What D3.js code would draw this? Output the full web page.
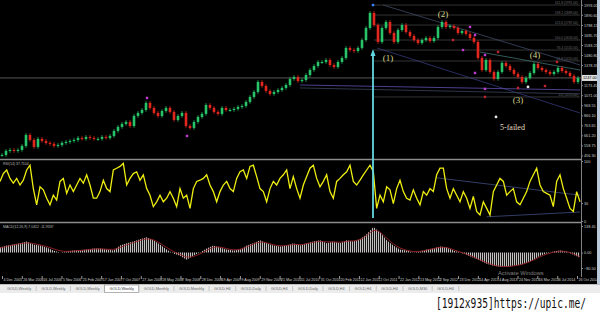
<!DOCTYPE html>
<html>
<head>
<meta charset="utf-8">
<script src="https://cdn.jsdelivr.net/npm/d3@7"></script>
<style>
  html, body { margin: 0; padding: 0; background: #fff; overflow: hidden; }
  svg { display: block; font-family: "Liberation Sans", Arial, sans-serif; }
</style>
</head>
<body>
<script>
// weekly closes (one every ~4px)
const closes = [
  461, 502, 512, 502, 512, 553, 665, 614, 543, 625,
  604, 584, 574, 553, 563, 584, 594, 604, 614, 635,
  625, 645, 635, 625, 625, 645, 635, 655, 706, 747,
  778, 798, 757, 859, 890, 920, 992, 941, 890, 859,
  910, 941, 900, 818, 859, 890, 757, 737, 798, 849,
  880, 971, 941, 900, 880, 941, 920, 920, 931, 951,
  961, 1002, 1053, 1104, 1206, 1165, 1114, 1084, 1104, 1124,
  1145, 1175, 1237, 1257, 1216, 1226, 1277, 1328, 1369, 1410,
  1410, 1430, 1379, 1359, 1410, 1451, 1553, 1532, 1522, 1553,
  1634, 1757, 1910, 1787, 1614, 1757, 1818, 1706, 1614, 1736,
  1787, 1716, 1675, 1634, 1604, 1634, 1655, 1624, 1655, 1767,
  1818, 1767, 1777, 1757, 1706, 1726, 1696, 1655, 1614, 1451,
  1328, 1430, 1308, 1237, 1308, 1400, 1369, 1328, 1288, 1257,
  1206, 1247, 1298, 1390, 1349, 1328, 1308, 1288, 1308, 1349,
  1318, 1298, 1267, 1206, 1247
];

// oscillator (yellow line)
const rsi = [
  66, 79, 85, 71, 63, 71, 60, 68, 85, 93,
  54, 27, 57, 52, 38, 27, 43, 35, 66, 71,
  46, 60, 49, 60, 71, 63, 77, 60, 38, 38,
  49, 68, 54, 49, 85, 88, 91, 96, 60, 71,
  79, 82, 68, 77, 54, 43, 24, 32, 43, 32,
  38, 49, 38, 24, 54, 38, 43, 21, 54, 66,
  68, 71, 77, 60, 49, 32, 49, 60, 66, 54,
  49, 71, 82, 85, 71, 91, 93, 74, 54, 49,
  32, 54, 66, 60, 71, 77, 85, 54, 74, 54,
  38, 60, 74, 88, 93, 71, 57, 66, 77, 49,
  38, 66, 71, 77, 82, 93, 66, 60, 68, 77,
  85, 93, 82, 21, 43, 32, 57, 52, 29, 54,
  68, 49, 38, 35, 52, 38, 27, 49, 43, 54,
  49, 77, 88, 88, 54, 38, 54, 43, 32, 49,
  38, 21, 41, 16, 10, 32, 21, 10, 49, 60,
  71, 66, 43, 49, 54, 32, 27, 38, 49, 66,
  77, 88, 60, 49, 46, 43, 24, 66, 77, 54,
  38, 21, 16, 49, 32
];

// macd histogram + signal
const macdHist = [
  27, 37, 42, 48, 58, 42, 37, 27, 11, 0, 5, 11, 11, 16, 21, 21, 16, 11, 37, 48,
  58, 69, 80, 64, 42, 16, -5, -16, -37, -16, 0, 21, 37, 27, 16, 11, 16, 37, 48, 64,
  48, 37, 32, 37, 48,
  37, 48, 58, 64, 48, 58, 48, 64, 58, 69, 95, 133, 106, 64, 37, 16, 11, 0, 5, 16,
  21, 32, 27, 11, 0, -11, -27, -42, -58, -69, -74, -74, -69, -64, -53, -37, -16, -5, 5, 11,
  5, -11, -27
];
const macdSignal = [
  24, 32, 40, 46, 52, 48, 40, 32, 20, 8, 5, 8, 11, 14, 18, 20, 18, 14, 26, 40,
  52, 63, 74, 68, 50, 26, 5, -10, -26, -22, -8, 12, 30, 30, 20, 13, 15, 30, 44, 58,
  52, 40, 34, 36, 44,
  40, 45, 54, 60, 54, 56, 52, 60, 60, 66, 86, 122, 110, 74, 44, 22, 12, 4, 5, 13,
  20, 29, 28, 15, 3, -8, -22, -38, -54, -66, -72, -74, -70, -65, -55, -40, -22, -8, 2, 8,
  6, -6, -22
];

const priceTicks = [456.30, 558.75, 661.20, 763.65, 866.10, 968.55, 1071.00, 1173.45,
  1378.35, 1480.80, 1583.25, 1685.70, 1788.15, 1890.60, 1993.05];
const rsiTicks = [0, 30, 100];
const macdTicks = [-80.50, 0, 138.45];
const dateTicks = ["4 Dec 2005", "26 Mar 2006", "16 Jul 2006", "5 Nov 2006", "25 Feb 2007",
  "17 Jun 2007", "7 Oct 2007", "27 Jan 2008", "18 May 2008", "7 Sep 2008", "28 Dec 2008",
  "19 Apr 2009", "9 Aug 2009", "29 Nov 2009", "21 Mar 2010", "11 Jul 2010", "31 Oct 2010",
  "20 Feb 2011", "12 Jun 2011", "2 Oct 2011", "22 Jan 2012", "13 May 2012", "2 Sep 2012",
  "23 Dec 2012", "14 Apr 2013", "4 Aug 2013", "24 Nov 2013", "16 Mar 2014", "6 Jul 2014", "26 Oct 2014"];

// fibo levels from the 2011 top
const fibLevels = [1991, 1889, 1787, 1634, 1532, 1420, 1053];
const fibNames = ["161.8", "138.2", "123.6", "100.0", "76.4", "61.8", "0.0"];

// wave count
const waves = ["(1)", "(2)", "(3)", "(4)"];
const waveIdx = [96.5, 110.25, 129, 133.25];
const wavePrice = [1451, 1900, 1022, 1481];

// [index, price, kind]
const markers = [
  [92.75, 1991, "blue"], [36.25, 1043, "purple"], [46.25, 655, "purple"],
  [117, 1767, "purple"], [118.25, 1685, "purple"], [115.25, 1532, "purple"],
  [112.75, 1634, "red"], [124, 1512, "red"], [120.75, 1481, "purple"],
  [118.25, 1298, "purple"], [120.75, 1135, "purple"], [120.75, 1053, "red"],
  [129, 1145, "red"], [131.5, 1155, "white"], [135.75, 1165, "red"],
  [138.75, 1410, "red"], [123.5, 849, "white"]
];

// trend lines [i0, p0, i1, p1]
const trendLines = [
  [95.25, 1991, 144.5, 1379],
  [93.75, 1553, 144.5, 890],
  [119.5, 1512, 144.5, 1328],
  [74.5, 1175, 144.5, 1124],
  [74.5, 1145, 144.5, 1084]
];
const trendColors = ["#3e4a66", "#33387a", "#3f7070", "#5f4fb0", "#3a445a"];
const rsiLines = [[131, 72, 174, 43], [146, 7, 174, 15]];

const tabs = ["GOLD,Weekly", "GOLD,Weekly", "GOLD,Weekly", "GOLD,Weekly", "GOLD,Monthly",
  "GOLD,Monthly", "GOLD,H4", "GOLD,Daily", "GOLD,H4", "GOLD,Daily", "GOLD,H4", "GOLD,H4",
  "GOLD,H4", "GOLD,M30", "GOLD,H4"];

const W = 600, H = 313;
const svg = d3.select("body").append("svg").attr("width", W).attr("height", H);

svg.append("rect").attr("width", W).attr("height", 284).attr("fill", "#000");
svg.append("rect").attr("y", 284).attr("width", W).attr("height", 29).attr("fill", "#fff");

// scales
const xC = d3.scaleLinear().domain([0, closes.length - 1]).range([2, 578]);
const yP = d3.scaleLinear().domain([430, 1920]).range([158, 12]);
const xR = d3.scaleLinear().domain([0, rsi.length - 1]).range([0, 580]);
const yR = d3.scaleLinear().domain([0, 100]).range([221, 161]);
const xM = d3.scaleLinear().domain([0, macdHist.length - 1]).range([0, 580]);
const yM = d3.scaleLinear().domain([-80.5, 138.45]).range([268, 226]);
const parse = d3.timeParse("%-d %b %Y");
const xT = d3.scaleTime().domain([parse(dateTicks[0]), parse(dateTicks[dateTicks.length - 1])]).range([2, 577]);

svg.append("clipPath").attr("id", "plot").append("rect").attr("width", 581).attr("height", 284);
const plot = svg.append("g").attr("clip-path", "url(#plot)");

// panel separators
[159.5, 222.5].forEach(y => {
  plot.append("line").attr("x1", 0).attr("x2", 581).attr("y1", y).attr("y2", y)
    .attr("stroke", "#8c8c8c").attr("stroke-width", 1.5);
});

// current price line
const last = closes[closes.length - 1];
plot.append("line").attr("x1", 0).attr("x2", 581).attr("y1", yP(last)).attr("y2", yP(last))
  .attr("stroke", "#6d6d6d").attr("stroke-width", 0.8);

// fibo lines
fibLevels.forEach((p, k) => {
  plot.append("line").attr("x1", xC(93)).attr("x2", 580).attr("y1", yP(p)).attr("y2", yP(p))
    .attr("stroke", "#4a4a4a").attr("stroke-width", 0.7);
  plot.append("text").attr("x", 578).attr("y", yP(p) - 0.8).attr("text-anchor", "end")
    .attr("font-size", 3.3).attr("fill", "#6a6a6a").text(fibNames[k] + " (" + p.toFixed(2) + ")");
});

trendLines.forEach((t, k) => {
  plot.append("line").attr("x1", xC(t[0])).attr("y1", yP(t[1])).attr("x2", xC(t[2])).attr("y2", yP(t[3]))
    .attr("stroke", trendColors[k]).attr("stroke-width", 0.8);
});

// candles
closes.forEach((c, i) => {
  let o = i == 0 ? c : closes[i - 1];
  let up = c >= o;
  let col = up ? "#27c469" : "#e3261e";
  let top = yP(Math.max(o, c)), bot = yP(Math.min(o, c));
  plot.append("line").attr("x1", xC(i)).attr("x2", xC(i)).attr("y1", top - 1.8).attr("y2", bot + 1.8)
    .attr("stroke", col).attr("stroke-width", 0.8);
  plot.append("rect").attr("x", xC(i) - 1.3).attr("width", 2.6)
    .attr("y", top).attr("height", Math.max(bot - top, 1)).attr("fill", col);
});

// markers
const markColor = { blue: "#3f7fff", purple: "#c23bd0", red: "#c0242c", white: "#e8e8e8" };
markers.forEach(m => {
  if (m[2] == "blue" || m[2] == "white") {
    plot.append("circle").attr("cx", xC(m[0])).attr("cy", yP(m[1])).attr("r", 1.4).attr("fill", markColor[m[2]]);
  } else {
    plot.append("rect").attr("x", xC(m[0]) - 1.2).attr("y", yP(m[1]) - 1.2)
      .attr("width", 2.4).attr("height", 2.4).attr("fill", markColor[m[2]]);
  }
});

waves.forEach((w, k) => {
  plot.append("text").attr("x", xC(waveIdx[k])).attr("y", yP(wavePrice[k])).attr("dy", "0.35em")
    .attr("text-anchor", "middle").attr("font-family", "Liberation Serif, serif").attr("font-size", 9)
    .attr("fill", "#d4d38a").text(w);
});
plot.append("text").attr("x", xC(124.5)).attr("y", yP(747)).attr("dy", "0.35em")
  .attr("font-family", "Liberation Serif, serif").attr("font-size", 8).attr("fill", "#e6dfc2").text("5-failed");

// oscillator panel
plot.append("text").attr("x", 3).attr("y", 164.5).attr("font-size", 3.5).attr("fill", "#bbb").text("RSI(14) 37.7104");
rsiLines.forEach(t => {
  plot.append("line").attr("x1", xR(t[0])).attr("y1", yR(t[1])).attr("x2", xR(t[2])).attr("y2", yR(t[3]))
    .attr("stroke", "#3f4c80").attr("stroke-width", 0.8);
});
plot.append("path").datum(rsi)
  .attr("d", d3.line().x((d, i) => xR(i)).y(d => yR(d)))
  .attr("fill", "none").attr("stroke", "#eeee10").attr("stroke-width", 1.3);

// macd panel
plot.append("text").attr("x", 3).attr("y", 227.5).attr("font-size", 3.5).attr("fill", "#bbb").text("MACD(12,26,9) 7.0412 -11.9337");
const pat = svg.append("defs").append("pattern").attr("id", "bars")
  .attr("width", 2).attr("height", 4).attr("patternUnits", "userSpaceOnUse");
pat.append("rect").attr("width", 1.1).attr("height", 4).attr("fill", "#c4c0c0");
plot.append("path").datum(macdHist)
  .attr("d", d3.area().x((d, i) => xM(i)).y0(yM(0)).y1(d => yM(d)))
  .attr("fill", "url(#bars)");
plot.append("path").datum(macdSignal)
  .attr("d", d3.line().x((d, i) => xM(i)).y(d => yM(d)).curve(d3.curveBasis))
  .attr("fill", "none").attr("stroke", "#9a2428").attr("stroke-width", 0.9);

// cyan arrow
const ax = xC(92.75);
plot.append("line").attr("x1", ax).attr("x2", ax).attr("y1", 54).attr("y2", 218)
  .attr("stroke", "#62d8e2").attr("stroke-width", 1.8);
plot.append("path").attr("d", `M${ax},49L${ax - 2.5},56L${ax + 2.5},56Z`).attr("fill", "#62d8e2");

// right axes
function styleAxis(g) {
  g.select(".domain").remove();
  g.selectAll("line").attr("stroke", "#888");
  g.selectAll("text").attr("fill", "#c8c8c8").attr("font-size", 3.8);
}
svg.append("line").attr("x1", 581.5).attr("x2", 581.5).attr("y1", 0).attr("y2", 277).attr("stroke", "#808080");
svg.append("g").attr("transform", "translate(581.5,0)")
  .call(d3.axisRight(yP).tickValues(priceTicks).tickSize(1.5).tickPadding(1).tickFormat(d3.format(".2f")))
  .call(styleAxis);
svg.append("g").attr("transform", "translate(581.5,0)")
  .call(d3.axisRight(yR).tickValues(rsiTicks).tickSize(1.5).tickPadding(1).tickFormat(d3.format("d")))
  .call(styleAxis);
svg.append("g").attr("transform", "translate(581.5,0)")
  .call(d3.axisRight(yM).tickValues(macdTicks).tickSize(1.5).tickPadding(1).tickFormat(d3.format(".2f")))
  .call(styleAxis);

// price box
svg.append("rect").attr("x", 582).attr("y", yP(last) - 3).attr("width", 15).attr("height", 6).attr("fill", "#e0e0e0");
svg.append("text").attr("x", 583).attr("y", yP(last) + 1.3).attr("font-size", 3.8).attr("fill", "#000").text(last.toFixed(2));

// window edge
svg.append("rect").attr("x", 597).attr("y", 0).attr("width", 3).attr("height", 284).attr("fill", "#b9c9da");

// date axis
const dAxis = svg.append("g").attr("transform", "translate(0,276)")
  .call(d3.axisBottom(xT).tickValues(dateTicks.map(parse)).tickSize(3).tickFormat(d3.timeFormat("%-d %b %Y")));
dAxis.select(".domain").remove();
dAxis.selectAll("line").attr("stroke", "#999");
dAxis.selectAll("text").attr("fill", "#d0d0d0").attr("font-size", 3.6)
  .attr("text-anchor", "start").attr("dx", 1).attr("y", 2).attr("dy", "0.71em");

svg.append("text").attr("x", 498).attr("y", 275).attr("font-size", 5.8).attr("fill", "#8f8f8f")
  .attr("opacity", 0.9).text("Activate Windows");

// tab bar
svg.append("rect").attr("y", 284).attr("width", W).attr("height", 9).attr("fill", "#ececec");
svg.append("line").attr("x1", 0).attr("x2", W).attr("y1", 284.5).attr("y2", 284.5).attr("stroke", "#bdbdbd");
let tx = 2;
tabs.forEach((t, k) => {
  let tab = svg.append("g");
  let box = tab.append("rect").attr("x", tx).attr("y", 285).attr("height", 7.5)
    .attr("fill", k == 3 ? "#fff" : "none").attr("stroke", k == 3 ? "#888" : "none").attr("stroke-width", 0.6);
  let txt = tab.append("text").attr("x", tx + 5).attr("y", 290).attr("font-size", 3.8)
    .attr("fill", k == 3 ? "#333" : "#666").text(t);
  let w = txt.node().getComputedTextLength() + 10;
  box.attr("width", w);
  tx += w;
  tab.append("line").attr("x1", tx).attr("x2", tx).attr("y1", 286).attr("y2", 291).attr("stroke", "#aaa").attr("stroke-width", 0.6);
});

// stamp, stretched vertically instead of widened
svg.append("text").attr("transform", "translate(436,308) scale(1,1.4)")
  .attr("font-family", "DejaVu Sans Mono, monospace")
  .attr("font-size", 9.6).attr("fill", "#111")
  .text("[1912x935]https://upic.me/");
</script>
</body>
</html>
